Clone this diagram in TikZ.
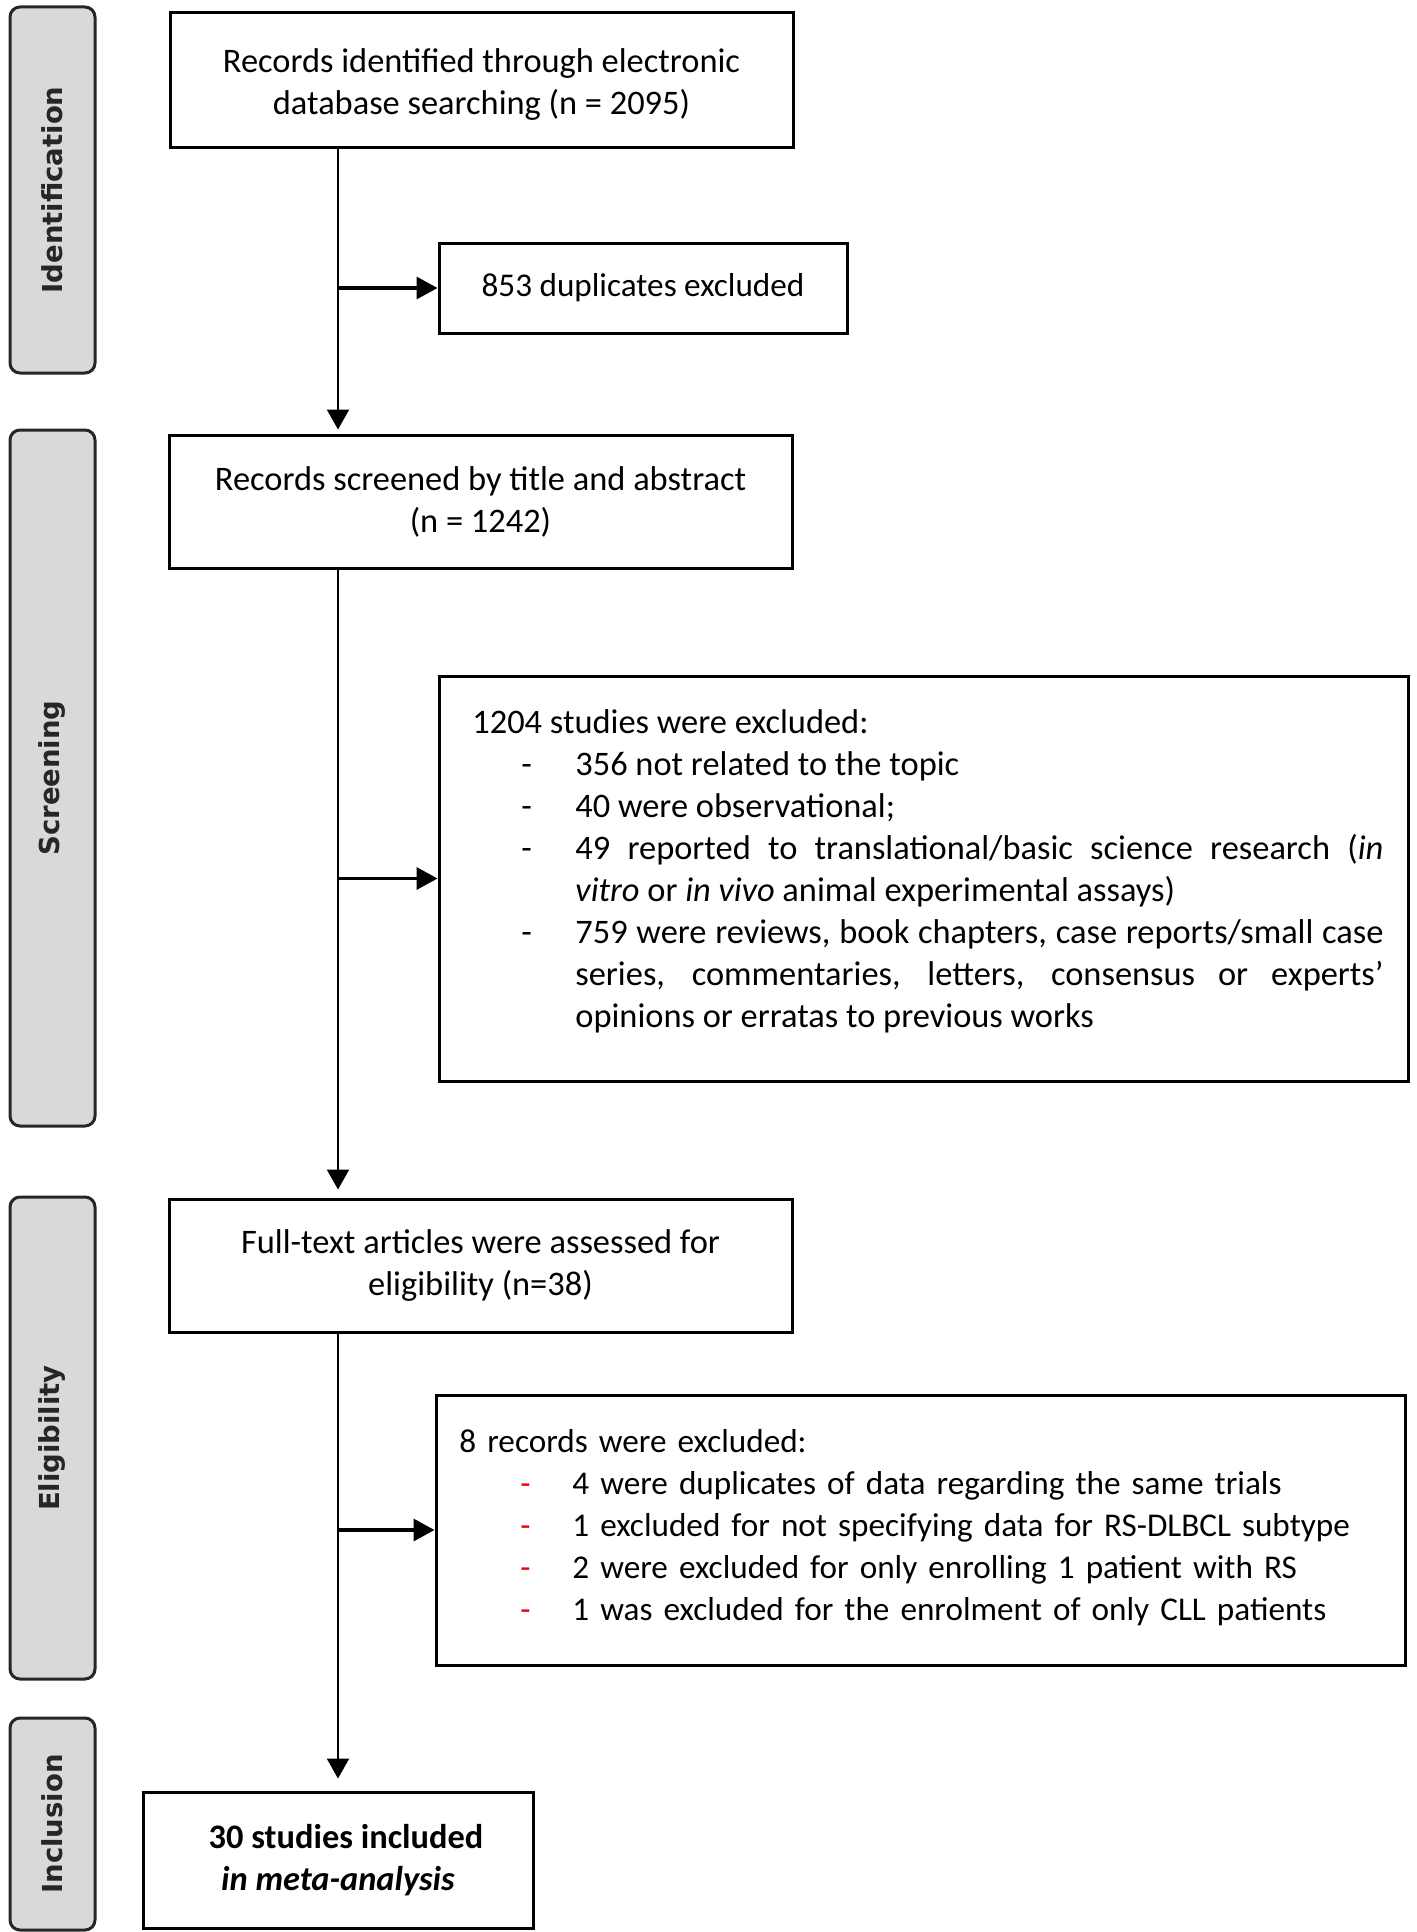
\documentclass[tikz,border=0pt]{standalone}
\usepackage{fontspec}
\setmainfont{Carlito}
\newfontfamily\sidefont{DejaVu Sans}
\usetikzlibrary{arrows.meta,calc}
\definecolor{sidefill}{HTML}{D9D9D9}
\definecolor{sideline}{HTML}{262626}
\definecolor{dashred}{HTML}{E2001A}
\newcommand\mainsize{\fontsize{17.2}{21}\selectfont}
\newcommand\smallersize{\fontsize{16.6}{21}\selectfont}
\newcommand\sidesize{\sidefont\bfseries\fontsize{13.75}{16}\selectfont}
% #1 gap dash->text, #2 text indent, #3 dash
\newcommand\exitem[3]{\par\hangindent=#2\hangafter=0\noindent\llap{\makebox[#1][l]{#3}}}
\begin{document}
\begin{tikzpicture}[x=0.5pt,y=-0.5pt,
  box/.style={draw=black, line width=1.5pt, inner sep=0pt, align=center, font=\mainsize},
  sidebar/.style={draw=sideline, fill=sidefill, line width=1.5pt, rounded corners=5pt,
    rotate=90, inner sep=0pt, font=\sidesize, text=sideline},
  spine/.style={line width=1.1pt, -{Triangle[length=10pt,width=11pt]}},
  branch/.style={line width=1.7pt, -{Triangle[length=10.5pt,width=11pt]}},
  listtext/.style={anchor=base west, inner sep=0pt, font=\mainsize}
]
\useasboundingbox (0,0) rectangle (1417,1932);
\fill[white] (0,0) rectangle (1417,1932);

% stage sidebars
\node[sidebar, minimum width=183pt, minimum height=42.5pt] (sid) at (52.5,190) {Identification};
\node[sidebar, minimum width=348pt, minimum height=42.5pt] (sscr) at (52.5,778) {Screening};
\node[sidebar, minimum width=241pt, minimum height=42.5pt] (selg) at (52.5,1438) {Eligibility};
\node[sidebar, minimum width=106pt, minimum height=42.5pt] (sinc) at (52.5,1824) {Inclusion};

% boxes
\node[box, minimum width=311.5pt, minimum height=67pt] (b1) at (481.5,80)
  {\rule{0pt}{16.6pt}Records identified through electronic\\database searching (n = 2095)};
\node[box, minimum width=204pt, minimum height=45pt, font=\smallersize] (b2) at (643,288)
  {853 duplicates excluded};
\node[box, minimum width=311.5pt, minimum height=66.5pt] (b3) at (480.5,501.5)
  {Records screened by title and abstract\\(n = 1242)};
\node[box, minimum width=484.5pt, minimum height=202.5pt] (b4) at (923.5,878.5) {};
\node[box, minimum width=311.5pt, minimum height=66.5pt] (b5) at (480.5,1265.5)
  {Full-text articles were assessed for\\eligibility (n=38)};
\node[box, minimum width=484.5pt, minimum height=135pt] (b6) at (920.5,1530) {};
\node[box, minimum width=195pt, minimum height=68pt] (b7) at (338,1860)
  {\hspace*{8pt}\textbf{30 studies included}\\\textbf{\textit{in meta-analysis}}};

% list texts
\node[listtext, text width=455.5pt, align=justify] (t4) at (472,733) {%
  \tolerance=10000\hyphenpenalty=10000\exhyphenpenalty=10000
  1204 studies were excluded:
  \exitem{27pt}{51.5pt}{-}356 not related to the topic
  \exitem{27pt}{51.5pt}{-}40 were observational;
  \exitem{27pt}{51.5pt}{-}49 reported to translational/basic science research (\textit{in}\linebreak
    \textit{vitro} or \textit{in vivo} animal experimental assays)
  \exitem{27pt}{51.5pt}{-}759 were reviews, book chapters, case reports/small case\linebreak
    series, commentaries, letters, consensus or experts’\linebreak
    opinions or erratas to previous works\par};
\node[listtext, text width=470pt, align=left, font=\smallersize] (t6) at (459,1452) {%
  \hyphenpenalty=10000
  8 records were excluded:
  \exitem{26pt}{56.5pt}{\textcolor{dashred}{-}}4 were duplicates of data regarding the same trials
  \exitem{26pt}{56.5pt}{\textcolor{dashred}{-}}1 excluded for not specifying data for RS-DLBCL subtype
  \exitem{26pt}{56.5pt}{\textcolor{dashred}{-}}2 were excluded for only enrolling 1 patient with RS
  \exitem{26pt}{56.5pt}{\textcolor{dashred}{-}}1 was excluded for the enrolment of only CLL patients\par};

% connectors
\coordinate (sp) at (338,0);
\draw[spine, shorten >=2pt] (b1.south -| sp) -- (b3.north -| sp);
\draw[spine, shorten >=4pt] (b3.south -| sp) -- (b5.north -| sp);
\draw[spine, shorten >=6pt] (b5.south -| sp) -- (b7.north);
\draw[branch] (b2.west -| sp) -- (b2.west);
\draw[branch] (b4.west -| sp) -- (b4.west);
\draw[branch] (b6.west -| sp) -- (b6.west);
\end{tikzpicture}
\end{document}
